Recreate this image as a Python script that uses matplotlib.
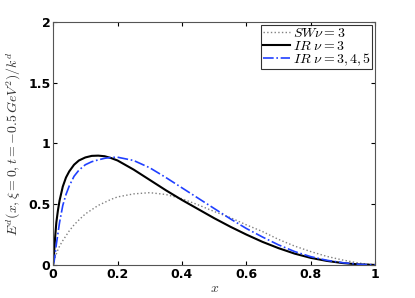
import matplotlib.pyplot as plt

plt.rcParams['mathtext.fontset'] = 'cm'

# Data
x_vals = [0, 0.003, 0.006, 0.01, 0.015, 0.02, 0.03, 0.04, 0.05, 0.065, 0.08,
          0.1, 0.12, 0.14, 0.16, 0.18, 0.2, 0.25, 0.3, 0.35, 0.4, 0.45, 0.5,
          0.55, 0.6, 0.65, 0.7, 0.75, 0.8, 0.85, 0.9, 0.95, 1.0]
sw_nu3 = [0, 0.03, 0.06, 0.09, 0.125, 0.155, 0.2, 0.24, 0.28, 0.33, 0.37,
          0.42, 0.455, 0.49, 0.515, 0.54, 0.56, 0.585, 0.595, 0.58, 0.545,
          0.495, 0.44, 0.39, 0.33, 0.275, 0.21, 0.155, 0.11, 0.07, 0.04,
          0.015, 0]
ir_nu3 = [0, 0.1, 0.22, 0.35, 0.45, 0.53, 0.645, 0.72, 0.77, 0.825, 0.86,
          0.885, 0.898, 0.9, 0.895, 0.88, 0.86, 0.785, 0.7, 0.615, 0.535,
          0.46, 0.385, 0.315, 0.25, 0.19, 0.138, 0.093, 0.058, 0.033, 0.015,
          0.004, 0]
ir_nu345 = [0, 0.03, 0.08, 0.17, 0.26, 0.35, 0.49, 0.58, 0.65, 0.73, 0.78,
            0.825, 0.85, 0.865, 0.878, 0.885, 0.887, 0.86, 0.8, 0.72, 0.635,
            0.55, 0.465, 0.38, 0.3, 0.23, 0.165, 0.11, 0.068, 0.038, 0.018,
            0.005, 0]

fig = plt.figure(figsize=(4.15, 2.98), dpi=100)
ax = fig.add_axes([0.128, 0.111, 0.776, 0.815])

ax.plot(x_vals, sw_nu3, ':', color='gray', lw=1.0, label=r'$SW\nu=3$')
ax.plot(x_vals, ir_nu3, '-', color='black', lw=1.5, label=r'$IR\ \nu=3$')
ax.plot(x_vals, ir_nu345, '-.', color='#2040ff', lw=1.2, label=r'$IR\ \nu=3,4,5$')

ax.set_xlim(0, 1)
ax.set_ylim(0, 2)
ax.set_xticks([0, 0.2, 0.4, 0.6, 0.8, 1])
ax.set_xticklabels(['0', '0.2', '0.4', '0.6', '0.8', '1'])
ax.set_yticks([0, 0.5, 1, 1.5, 2])
ax.set_yticklabels(['0', '0.5', '1', '1.5', '2'])
ax.tick_params(direction='in', top=True, right=True, length=3, labelsize=9, pad=2)
for lab in ax.get_xticklabels() + ax.get_yticklabels():
    lab.set_fontweight('bold')
for sp in ax.spines.values():
    sp.set_color('#555555')

ax.set_xlabel(r'$x$', fontsize=10, color='#333333', labelpad=0)
ax.set_ylabel(r'$E^d(x,\xi=0,t=-0.5\,GeV^2)/k^d$', fontsize=10, color='#333333')

leg = ax.legend(loc='upper right', fontsize=10, frameon=True, fancybox=False,
                borderpad=0.1, labelspacing=-0.1, handlelength=2.0,
                handletextpad=0.2, borderaxespad=0.2)
leg.get_frame().set_edgecolor('black')
leg.get_frame().set_linewidth(0.8)

plt.savefig('out.png', dpi=100)
